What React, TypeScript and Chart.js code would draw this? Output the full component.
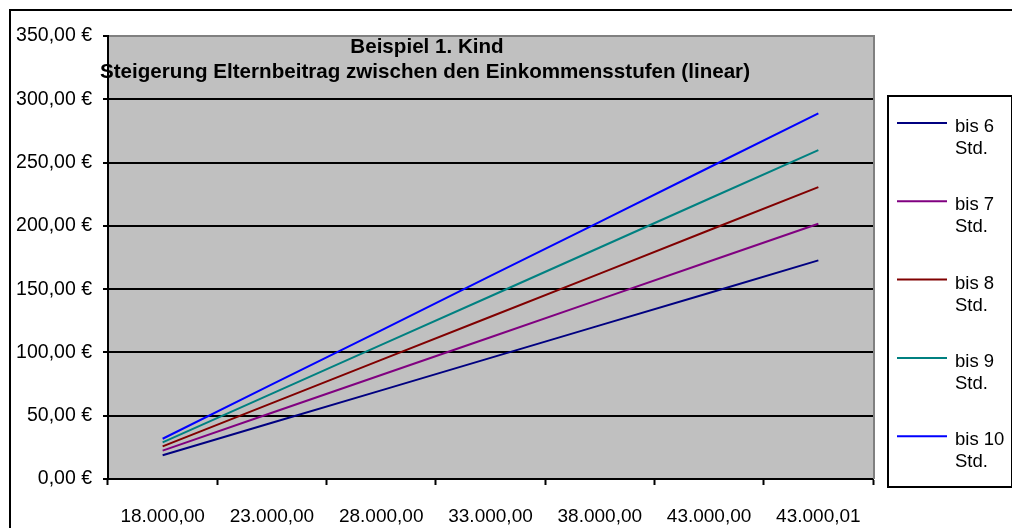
import React, { useEffect, useRef } from "react";
import { Chart, registerables } from "chart.js";

Chart.register(...registerables);

const categories = ["18.000,00", "23.000,00", "28.000,00", "33.000,00", "38.000,00", "43.000,00", "43.000,01"];
const seriesLabels = ["bis 6 Std.", "bis 7 Std.", "bis 8 Std.", "bis 9 Std.", "bis 10 Std."];
const bis6 = [18.7, 44.4, 70.0, 95.7, 121.4, 147.0, 172.7];
const bis7 = [22.4, 52.3, 82.2, 112.0, 141.9, 171.8, 201.7];
const bis8 = [25.8, 59.9, 94.1, 128.2, 162.3, 196.5, 230.6];
const bis9 = [29.0, 67.5, 106.0, 144.4, 182.9, 221.4, 259.9];
const bis10 = [31.8, 74.7, 117.5, 160.4, 203.2, 246.1, 288.9];
const seriesColors = ["#000080", "#800080", "#800000", "#008080", "#0000FF"];
const titleLines = ["Beispiel 1. Kind", "Steigerung Elternbeitrag zwischen den Einkommensstufen (linear)"];
const yMin = 0;
const yMax = 350;
const yStep = 50;

const FONT = '"Liberation Sans", Arial, sans-serif';

const decorPlugin = {
  id: "decor",
  beforeDraw(chart: any) {
    const { ctx, chartArea } = chart;
    ctx.save();
    ctx.fillStyle = "#ffffff";
    ctx.fillRect(0, 0, chart.width, chart.height);
    // outer chart border
    ctx.strokeStyle = "#000";
    ctx.lineWidth = 2;
    ctx.strokeRect(10, 10, 1200, 700);
    // plot area
    ctx.fillStyle = "#C0C0C0";
    ctx.fillRect(chartArea.left, chartArea.top, chartArea.right - chartArea.left, chartArea.bottom - chartArea.top);
    ctx.restore();
  },
  afterDraw(chart: any) {
    const { ctx, chartArea } = chart;
    ctx.save();
    // right border of plot area
    ctx.strokeStyle = "#808080";
    ctx.lineWidth = 2;
    ctx.beginPath();
    ctx.moveTo(chartArea.right + 1, chartArea.top - 1);
    ctx.lineTo(chartArea.right + 1, chartArea.bottom);
    ctx.stroke();

    // title
    ctx.fillStyle = "#000";
    ctx.font = `bold 20.6px ${FONT}`;
    ctx.textAlign = "center";
    ctx.textBaseline = "middle";
    ctx.fillText(titleLines[0], 427, 47);
    ctx.fillText(titleLines[1], 425, 72);

    // legend
    const lx = 888, ly = 96, lw = 124, lh = 391;
    ctx.fillStyle = "#fff";
    ctx.fillRect(lx, ly, lw, lh);
    ctx.strokeStyle = "#000";
    ctx.lineWidth = 2;
    ctx.strokeRect(lx, ly, lw, lh);
    ctx.font = `18.5px ${FONT}`;
    ctx.textAlign = "left";
    chart.data.datasets.forEach((ds: any, i: number) => {
      const y = 123 + i * 78.3;
      ctx.strokeStyle = ds.borderColor;
      ctx.lineWidth = 2;
      ctx.beginPath();
      ctx.moveTo(897, y);
      ctx.lineTo(947, y);
      ctx.stroke();
      const label: string = ds.label;
      const idx = label.lastIndexOf(" ");
      ctx.fillStyle = "#000";
      ctx.fillText(label.slice(0, idx), 955, y + 4);
      ctx.fillText(label.slice(idx + 1), 955, y + 26);
    });
    ctx.restore();
  },
};

export default function App() {
  const canvasRef = useRef<HTMLCanvasElement>(null);

  useEffect(() => {
    document.body.style.margin = "0";
    const seriesValues = [bis6, bis7, bis8, bis9, bis10];
    const chart = new Chart(canvasRef.current as HTMLCanvasElement, {
      type: "line",
      data: {
        labels: categories,
        datasets: seriesValues.map((vals, i) => ({
          label: seriesLabels[i],
          data: vals,
          borderColor: seriesColors[i],
          backgroundColor: seriesColors[i],
          borderWidth: 2,
          pointRadius: 0,
          tension: 0,
          fill: false,
        })),
      },
      options: {
        animation: false,
        responsive: true,
        maintainAspectRatio: false,
        layout: { padding: { left: 0, top: 36, right: 139, bottom: 0 } },
        plugins: {
          legend: { display: false },
          title: { display: false },
          tooltip: { enabled: false },
        },
        scales: {
          x: {
            type: "category",
            offset: true,
            afterFit(scale: any) {
              scale.height = 49;
            },
            grid: {
              offset: true,
              drawOnChartArea: false,
              drawTicks: true,
              tickLength: 6,
              tickColor: "#000",
              tickWidth: 2,
            },
            border: { display: true, color: "#000", width: 2 },
            ticks: {
              color: "#000",
              font: { family: FONT, size: 19 },
              padding: 20,
              maxRotation: 0,
              autoSkip: false,
            },
          },
          y: {
            min: yMin,
            max: yMax,
            afterFit(scale: any) {
              scale.width = 108;
            },
            grid: {
              color: (c: any) => (c.tick && c.tick.value === yMax ? "#808080" : "#000"),
              lineWidth: 2,
              tickLength: 5,
              tickColor: "#000",
              tickWidth: 2,
            },
            border: { display: true, color: "#000", width: 2 },
            ticks: {
              stepSize: yStep,
              color: "#000",
              font: { family: FONT, size: 19.5 },
              padding: 11,
              callback: (v: any) => Number(v).toFixed(2).replace(".", ",") + " €",
            },
          },
        },
      },
      plugins: [decorPlugin],
    });
    return () => chart.destroy();
  }, []);

  return (
    <div style={{ width: 1012, height: 528, position: "relative", overflow: "hidden" }}>
      <canvas ref={canvasRef} />
    </div>
  );
}
